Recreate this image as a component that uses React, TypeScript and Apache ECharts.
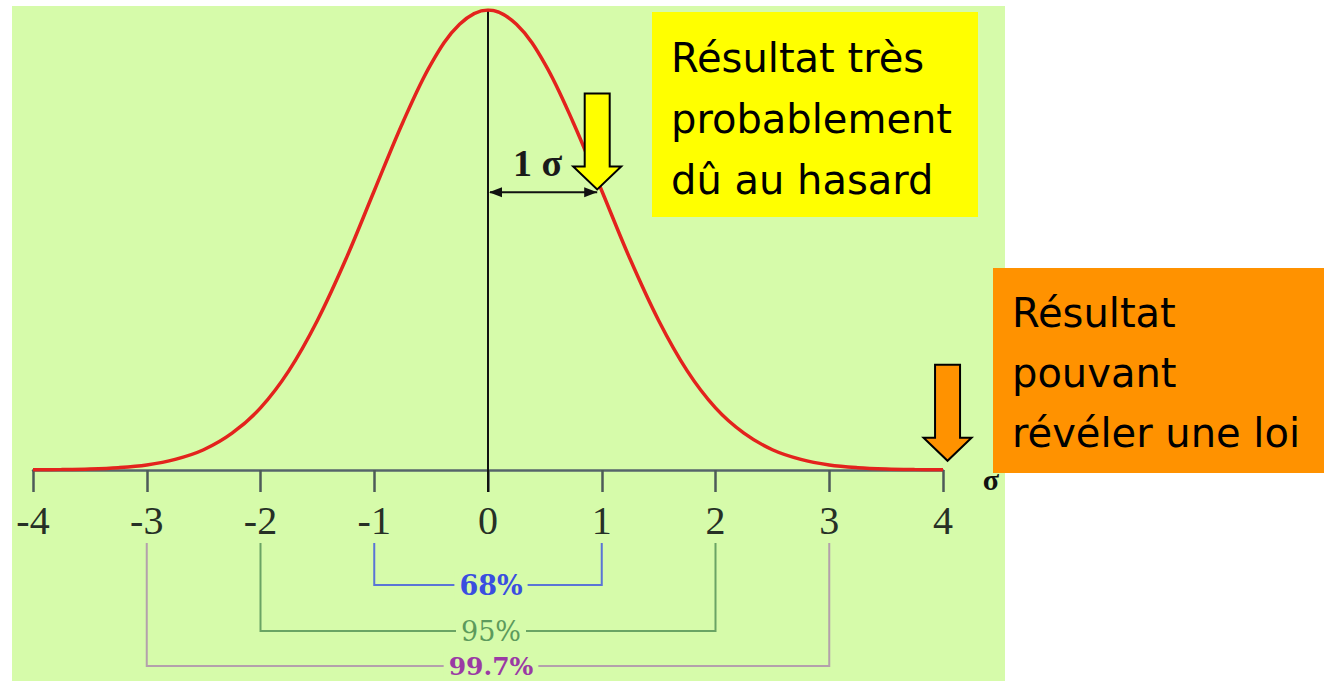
import React, { useEffect, useRef } from "react";
import * as echarts from "echarts";

// Curve: x in sigma units, relative height (peak = 1)
const sigmaX = [-4, -3.75, -3.5, -3.25, -3, -2.75, -2.5, -2.25, -2, -1.75, -1.5, -1.25, -1, -0.75, -0.5, -0.25, 0,
  0.25, 0.5, 0.75, 1, 1.25, 1.5, 1.75, 2, 2.25, 2.5, 2.75, 3, 3.25, 3.5, 3.75, 4];
const heights = [0.0003, 0.0009, 0.0022, 0.0051, 0.011, 0.023, 0.044, 0.08, 0.135, 0.216, 0.325, 0.458, 0.607, 0.755, 0.883, 0.969, 1,
  0.969, 0.883, 0.755, 0.607, 0.458, 0.325, 0.216, 0.135, 0.08, 0.044, 0.023, 0.011, 0.0051, 0.0022, 0.0009, 0.0003];
const tickLabels = ["-4", "-3", "-2", "-1", "0", "1", "2", "3", "4"];

const bracketK = [1, 2, 3];
const bracketLabels = ["68%", "95%", "99.7%"];
const bracketLineColors = ["#5a74d6", "#6aa464", "#b4a0ac"];
const bracketTextColors = ["#3a4ee0", "#5c9a5c", "#9a3aa4"];
const bracketTextWeights = ["bold", "normal", "bold"];

const yellowLines = ["Résultat très", "probablement", "dû au hasard"];
const orangeLines = ["Résultat", "pouvant", "révéler une loi"];

const BG = "#d6fbaa";

export default function App() {
  const ref = useRef<HTMLDivElement>(null);
  useEffect(() => {
    if (!ref.current) return;
    const chart = echarts.init(ref.current, null, { renderer: "svg" });
    chart.setOption({
      animation: false,
      backgroundColor: "#ffffff",
      grid: { left: 33, right: 381, top: 10, bottom: 211 },
      xAxis: {
        type: "value",
        min: -4,
        max: 4,
        interval: 1,
        axisLine: { show: true, onZero: false, lineStyle: { color: "#56646a", width: 2.5 } },
        axisTick: { show: true, length: 22, inside: false, lineStyle: { color: "#4d5a58", width: 2.5 } },
        splitLine: { show: false },
        axisLabel: {
          fontFamily: "Liberation Serif",
          fontSize: 40,
          color: "#263026",
          margin: 30,
          formatter: (v: number) => tickLabels[Math.round(v) + 4],
        },
        z: 2,
      },
      yAxis: { type: "value", min: 0, max: 1, show: false },
      series: [
        {
          type: "line",
          data: sigmaX.map((x, i) => [x, heights[i]]),
          smooth: 0.35,
          showSymbol: false,
          lineStyle: { color: "#e3231d", width: 3.5 },
          z: 5,
        },
      ],
    });

    const px = (x: number, y: number) => chart.convertToPixel({ gridIndex: 0 }, [x, y]) as number[];
    const g: any[] = [
      { type: "rect", z: -10, silent: true, shape: { x: 12, y: 6, width: 993, height: 680 }, style: { fill: BG } },
    ];

    // vertical line at 0
    const top0 = px(0, 1);
    const bot0 = px(0, 0);
    g.push({ type: "line", z: 4, shape: { x1: top0[0], y1: top0[1], x2: bot0[0], y2: bot0[1] + 22 }, style: { stroke: "#111", lineWidth: 2 } });

    // 1 sigma double arrow
    const a0 = px(0, 0.604);
    const a1 = px(0.96, 0.604);
    g.push({ type: "line", z: 6, shape: { x1: a0[0] + 2, y1: a0[1], x2: a1[0], y2: a1[1] }, style: { stroke: "#111", lineWidth: 2 } });
    g.push({ type: "polygon", z: 6, shape: { points: [[a0[0] + 1, a0[1]], [a0[0] + 14, a0[1] - 5], [a0[0] + 14, a0[1] + 5]] }, style: { fill: "#111" } });
    g.push({ type: "polygon", z: 6, shape: { points: [[a1[0], a1[1]], [a1[0] - 13, a1[1] - 5], [a1[0] - 13, a1[1] + 5]] }, style: { fill: "#111" } });
    g.push({
      type: "text", z: 6, x: (a0[0] + a1[0]) / 2 - 5, y: a0[1] - 29,
      style: { text: "1 σ", font: "bold 38px 'Liberation Serif'", fill: "#1a1a1a", align: "center", verticalAlign: "middle" },
    });

    // sigma axis label
    const end = px(4, 0);
    g.push({
      type: "text", z: 6, x: end[0] + 48, y: end[1] + 9,
      style: { text: "σ", font: "bold 30px 'Liberation Serif'", fill: "#111", align: "center", verticalAlign: "middle" },
    });

    // brackets
    const bracketY = [585, 631, 666];
    const bracketFont = [27, 27, 25];
    const bracketTop = 543;
    const c = px(0, 0);
    bracketK.forEach((k, i) => {
      const l = px(-k, 0)[0];
      const r = px(k, 0)[0];
      const y = bracketY[i];
      g.push({
        type: "polyline", z: 3,
        shape: { points: [[l, bracketTop], [l, y], [r, y], [r, bracketTop]] },
        style: { stroke: bracketLineColors[i], lineWidth: 2, fill: null },
      });
      g.push({
        type: "text", z: 4, x: c[0] + 3, y: y,
        style: {
          text: bracketLabels[i], font: `${bracketTextWeights[i]} ${bracketFont[i]}px 'DejaVu Serif'`, fill: bracketTextColors[i],
          align: "center", verticalAlign: "middle", backgroundColor: BG, padding: [0, 5],
        },
      });
    });

    // arrow builder
    const arrow = (tx: number, ty: number, fill: string) => ({
      type: "polygon", z: 8,
      shape: {
        points: [
          [tx - 12.5, ty - 96], [tx + 12.5, ty - 96], [tx + 12.5, ty - 23], [tx + 24, ty - 23],
          [tx, ty], [tx - 24, ty - 23], [tx - 12.5, ty - 23],
        ],
      },
      style: { fill, stroke: "#000", lineWidth: 2, lineJoin: "miter" },
    });
    const yt = px(0.96, 0.61);
    g.push(arrow(yt[0], yt[1], "#ffff00"));
    const ot = px(4.04, 0.02);
    g.push(arrow(ot[0], ot[1], "#ff9200"));

    // yellow box
    g.push({ type: "rect", z: 7, shape: { x: 652, y: 12, width: 326, height: 205 }, style: { fill: "#ffff00" } });
    yellowLines.forEach((t, i) => {
      g.push({
        type: "text", z: 8, x: 671, y: 58 + i * 61,
        style: { text: t, font: "40px 'DejaVu Sans'", fill: "#000", align: "left", verticalAlign: "middle" },
      });
    });
    // orange box
    g.push({ type: "rect", z: 7, shape: { x: 993, y: 268, width: 331, height: 205 }, style: { fill: "#ff9200" } });
    orangeLines.forEach((t, i) => {
      g.push({
        type: "text", z: 8, x: 1012, y: 313 + i * 60,
        style: { text: t, font: "40px 'DejaVu Sans'", fill: "#000", align: "left", verticalAlign: "middle" },
      });
    });

    chart.setOption({ graphic: g });

    return () => chart.dispose();
  }, []);
  return <div ref={ref} style={{ position: "absolute", left: 0, top: 0, width: 1324, height: 681 }} />;
}
